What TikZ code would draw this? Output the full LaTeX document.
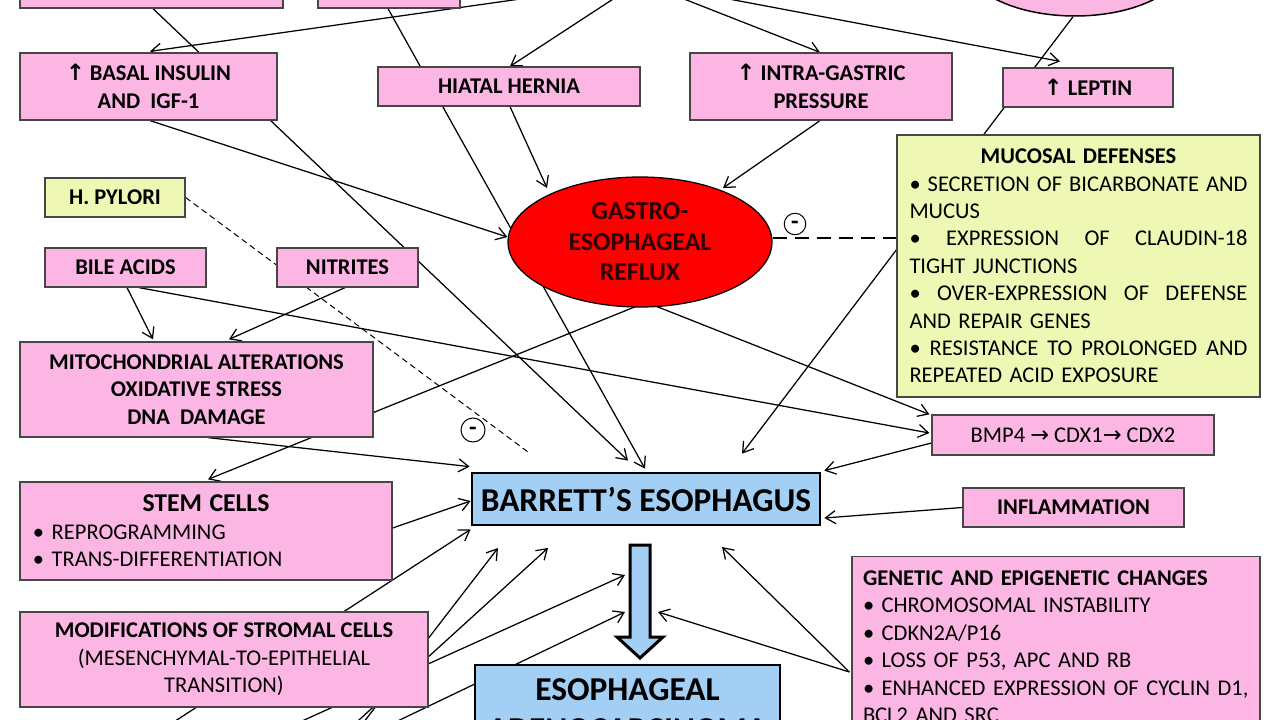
\documentclass[tikz,border=0pt]{standalone}
\usepackage{fontspec}
\setmainfont{Carlito}
\newfontfamily\arrowfont{DejaVu Sans}
\usetikzlibrary{arrows.meta, shapes.geometric, calc}
\definecolor{boxpink}{RGB}{252,182,228}
\definecolor{boxlime}{RGB}{238,247,180}
\definecolor{boxblue}{RGB}{164,207,244}
\definecolor{refluxred}{RGB}{255,0,0}
\definecolor{edgegray}{RGB}{70,70,70}
\newcommand{\boxfont}{\fontsize{12.8}{15.6}\selectfont}
\newcommand{\uparr}{{\arrowfont ↑}}
\newcommand{\rarr}{{\arrowfont →}}
\newcommand{\jline}[1]{\leavevmode\hbox to 67.6mm{#1}}
\pgfdeclarelayer{back}
\pgfsetlayers{back,main}

\begin{document}
\begin{tikzpicture}[
  x=0.2mm, y=-0.2mm,
  sz/.style 2 args={minimum width=#1*0.2mm, minimum height=#2*0.2mm},
  pinkbox/.style={draw=edgegray, line width=0.25mm, fill=boxpink, inner sep=0pt,
    align=center, font=\boxfont\bfseries},
  limebox/.style={draw=edgegray, line width=0.25mm, fill=boxlime, inner sep=0pt,
    align=center, font=\boxfont\bfseries},
  bluebox/.style={draw=black, line width=0.55mm, fill=boxblue, inner sep=0pt,
    align=center, font=\fontsize{19}{21}\selectfont\bfseries},
  reflux/.style={ellipse, draw=black, line width=0.25mm, fill=refluxred, inner sep=0pt,
    align=center, text={rgb,255:red,45;green,0;blue,0},
    font=\fontsize{14.7}{17.3}\selectfont\bfseries},
  pinkoval/.style={ellipse, draw=black, line width=0.3mm, fill=boxpink},
  minusmark/.style={circle, draw=black, line width=0.2mm, fill=white, inner sep=0pt,
    minimum size=4.3mm, font=\fontsize{14}{14}\selectfont\bfseries},
  arr/.style={-{Straight Barb[length=2mm, width=2.6mm]}, line width=0.25mm},
  pyloridash/.style={line width=0.2mm, dash pattern=on 1.2mm off 0.8mm},
  defensedash/.style={line width=0.45mm, dash pattern=on 2.8mm off 1.6mm},
  bigarrow/.style={draw=black, line width=0.6mm, fill=boxblue, line join=miter},
]
\useasboundingbox (0,0) rectangle (1280,720);
\clip (0,0) rectangle (1280,720);

% --- Top row (cut by the frame) ---
\node[pinkbox, sz={263}{60}] (topA) at (151.5,-22) {};
\node[pinkbox, sz={142}{60}] (topB) at (389,-22) {};
\node[pinkoval, sz={222}{112}] (topE) at (1075,-40) {};

% --- Second row ---
\node[pinkbox, sz={257}{67}] (basal) at (148.5,86.5) {\uparr\ BASAL INSULIN\\AND\ \ IGF-1};
\node[pinkbox, sz={262}{39}] (hiatal) at (509,86.5) {HIATAL HERNIA};
\node[pinkbox, sz={262}{67}] (intra) at (821,86.5) {\uparr\ INTRA-GASTRIC\\PRESSURE};
\node[pinkbox, sz={170}{39}] (leptin) at (1088,87.5) {\uparr\ LEPTIN};

% --- Reflux and its neighbours ---
\node[limebox, sz={140}{39}] (pylori) at (115,197.5) {H. PYLORI};
\node[pinkbox, sz={161}{39}] (bile) at (125.5,267.5) {BILE ACIDS};
\node[pinkbox, sz={141}{39}] (nitrites) at (347.5,267.5) {NITRITES};
\node[reflux, sz={264}{130}] (gerd) at (640,242) {GASTRO-\\ESOPHAGEAL\\REFLUX};
\node[limebox, sz={363}{262}, text width=67.6mm, align=left, font=\boxfont] (mucosal) at (1078.5,266)
  {\makebox[67.6mm]{\textbf{MUCOSAL DEFENSES}}\\
   \jline{•\hfill SECRETION\hfill OF\hfill BICARBONATE\hfill AND}\\
   MUCUS\\
   \jline{•\hfill EXPRESSION\hfill OF\hfill CLAUDIN-18}\\
   TIGHT JUNCTIONS\\
   \jline{•\hfill OVER-EXPRESSION\hfill OF\hfill DEFENSE}\\
   AND REPAIR GENES\\
   \jline{•\hfill RESISTANCE\hfill TO\hfill PROLONGED\hfill AND}\\
   REPEATED ACID EXPOSURE};
\node[pinkbox, sz={353}{95}] (mito) at (196.5,389.5) {MITOCHONDRIAL ALTERATIONS\\OXIDATIVE STRESS\\DNA\ \ DAMAGE};
\node[pinkbox, sz={282}{40}, font=\boxfont] (bmp) at (1073,435) {BMP4 \rarr\ CDX1\rarr\ CDX2};
\node[minusmark] (minusA) at (795,224) {\raisebox{-1.1mm}[0pt][0pt]{-}};
\node[minusmark, minimum size=4.8mm] (minusB) at (473,430) {\raisebox{-1.1mm}[0pt][0pt]{-}};

% --- Barrett's esophagus row ---
\node[bluebox, sz={348}{52}] (barrett) at (646,499) {BARRETT’S ESOPHAGUS};
\node[pinkbox, sz={221}{39}] (inflam) at (1073.5,507.5) {INFLAMMATION};
\node[pinkbox, sz={372}{98}, text width=69.2mm, align=left, font=\boxfont] (stem) at (206,531)
  {\makebox[69.2mm]{\fontsize{14.6}{15.6}\selectfont\bfseries STEM CELLS}\\
   • REPROGRAMMING\\
   • TRANS-DIFFERENTIATION};
\node[pinkbox, sz={408}{95}, font=\boxfont] (stromal) at (224,659.5)
  {\textbf{MODIFICATIONS OF STROMAL CELLS}\\(MESENCHYMAL-TO-EPITHELIAL\\TRANSITION)};
\node[pinkbox, anchor=north, minimum width=81.6mm, text width=77.2mm, inner xsep=2.2mm,
  inner ysep=2.8mm, align=left, font=\boxfont] (genetic) at (1056,556)
  {\textbf{GENETIC AND EPIGENETIC CHANGES}\\
   • CHROMOSOMAL INSTABILITY\\
   • CDKN2A/P16\\
   • LOSS OF P53, APC AND RB\\
   • ENHANCED EXPRESSION OF CYCLIN D1,\\
   BCL2 AND SRC};
\node[bluebox, line width=0.3mm, anchor=north, minimum width=61mm, inner ysep=2.8mm,
  font=\fontsize{19}{22.8}\selectfont\bfseries] (eac) at (627.5,664)
  {ESOPHAGEAL\\ADENOCARCINOMA};

% --- Progression arrow ---
\draw[bigarrow] (630,545) -- (650,545) -- (650,637) -- (663,637) -- (640,658)
  -- (617,637) -- (630,637) -- cycle;

% --- Free ends ---
\coordinate (srcA) at (584,-10);
\coordinate (srcB) at (627,-10);
\coordinate (srcC) at (661,-10);
\coordinate (srcD) at (681,-10);
\coordinate (srcE) at (146,740);
\coordinate (srcF) at (350,740);
\coordinate (srcG) at (337,740);
\coordinate (srcH) at (260,740);
\coordinate (srcI) at (358,740);
\coordinate (pyloriend) at (528,452);
\coordinate (tipA) at (498,548);
\coordinate (tipB) at (548,548);
\coordinate (tipC) at (625,575);
\coordinate (tipD) at (625,612);
\coordinate (tipE) at (658,612);
\coordinate (tipF) at (722,547);

\begin{pgfonlayer}{back}
\fill[white] (0,0) rectangle (1280,720);
\clip (0,0) rectangle (1280,720);
% --- From the top ---
\draw[arr] (srcA) -- ($(basal.north)+(1.5,-1)$);
\draw[arr] (srcB) -- ($(hiatal.north)+(1,0)$);
\draw[arr] (srcC) -- ($(intra.north)+(-1,0)$);
\draw[arr] (srcD) -- ($(leptin.north)+(-28,-6)$);
\draw[arr] ($(topA.south)+(1.5,0)$) -- ($(barrett.north)+(-18,-11)$);
\draw[arr] ($(topB.south)+(-1,0)$) -- ($(barrett.north)+(-1,-3)$);
\draw[arr] ($(topE.south)+(-2,0)$) -- ($(barrett.north)+(96,-18)$);

% --- Into the reflux ---
\draw[arr] ($(basal.south)+(1.5,0)$) -- ($(gerd.west)+(0,-5)$);
\draw[arr] ($(hiatal.south)+(1,0)$) -- ($(gerd.center)+(-93,-54)$);
\draw[arr] ($(intra.south)+(-1,0)$) -- ($(gerd.center)+(83,-54)$);
\draw[defensedash] ($(gerd.east)+(0,-4)$) -- ($(mucosal.west)+(0,-28)$);
\draw[pyloridash] (pylori.east) -- (pyloriend);

% --- Out of the reflux and the luminal factors ---
\draw[arr] ($(gerd.south)+(-2,-2)$) -- ($(stem.north)+(2,-2)$);
\draw[arr] ($(gerd.south)+(12,-3)$) -- ($(bmp.north west)+(-2,0)$);
\draw[arr] ($(bile.south)+(1.5,0)$) -- ($(mito.north)+(-43.5,-2)$);
\draw[arr] ($(bile.south)+(13.5,0)$) -- ($(bmp.west)+(-2,-2)$);
\draw[arr] ($(nitrites.south)+(-2.5,0)$) -- ($(mito.north)+(32.5,-2)$);
\draw[arr] ($(mito.south)+(11.5,0)$) -- ($(barrett.north west)+(-1,-5)$);

% --- Into Barrett's esophagus ---
\draw[arr] ($(bmp.west)+(0,8)$) -- ($(barrett.north east)+(3,-1)$);
\draw[arr] (inflam.west) -- ($(barrett.east)+(3,19)$);
\draw[arr] ($(stem.east)+(0,-3)$) -- ($(barrett.west)+(0,2)$);
\draw[arr] (srcE) -- ($(barrett.south west)+(0,3)$);
\draw[arr] (srcF) -- (tipA);
\draw[arr] (srcG) -- (tipB);
\draw[arr] (srcH) -- (tipC);
\draw[arr] (srcI) -- (tipD);
\draw[arr] ($(genetic.north west)+(-2,116)$) -- (tipE);
\draw[arr] ($(genetic.north west)+(-2,116)$) -- (tipF);
\end{pgfonlayer}
\end{tikzpicture}
\end{document}
